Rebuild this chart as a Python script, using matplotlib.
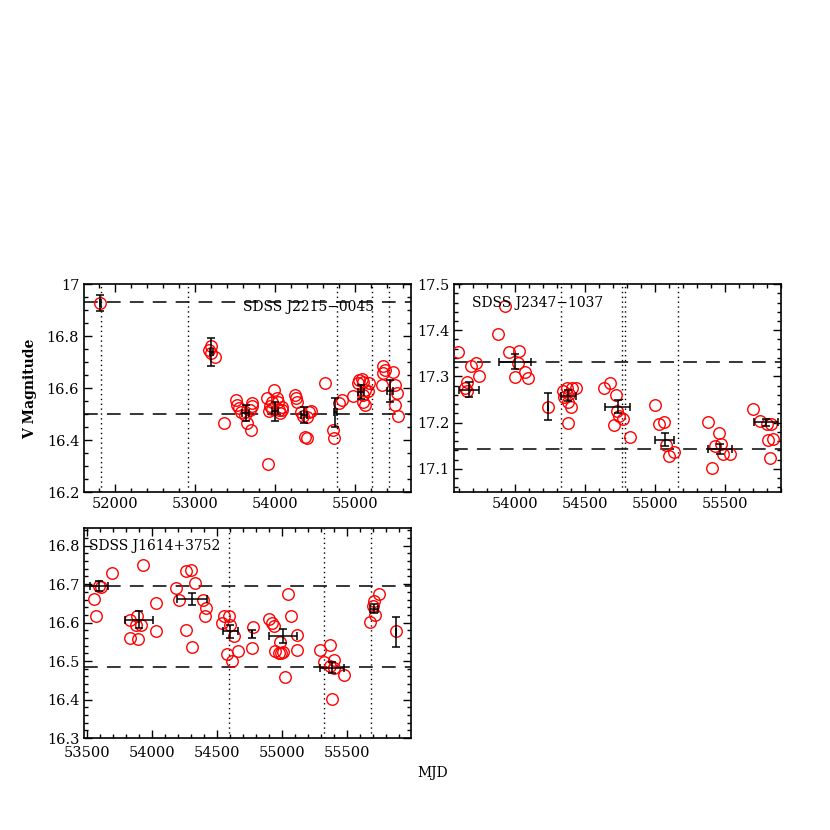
"""
V-band light curves of three SDSS sources (open circles) with binned
means (error bars), reference levels (dashed) and epochs (dotted).
"""

import matplotlib
matplotlib.use("Agg")
import matplotlib.pyplot as plt
from matplotlib.ticker import MultipleLocator, FuncFormatter

plt.rcParams["font.family"] = ["DejaVu Serif"]

# ---------------- SDSS J2215-0045 ----------------
j2215_mjd = [51812, 53167, 53200, 53192, 53250, 53362,
             53508, 53521, 53546, 53571, 53625, 53646, 53696, 53704, 53712, 53687,
             53896, 53908, 53921, 53937, 53954, 53987, 54021, 54037, 54046, 54062,
             54079, 54087, 53960,
             54242, 54258, 54271, 54325, 54346, 54375, 54404, 54400, 54429, 54442,
             54625, 54729, 54742, 54804, 54833,
             54979, 55033, 55054, 55083, 55104, 55125, 55096, 55104, 55125, 55167, 55179,
             55333, 55354, 55375, 55354, 55479, 55500, 55521, 55500, 55541]
j2215_mag = [16.928, 16.747, 16.760, 16.734, 16.718, 16.467,
             16.555, 16.535, 16.523, 16.506, 16.497, 16.465, 16.437, 16.542, 16.529, 16.516,
             16.561, 16.308, 16.510, 16.531, 16.548, 16.593, 16.561, 16.548, 16.516, 16.503,
             16.514, 16.526, 16.519,
             16.574, 16.561, 16.548, 16.506, 16.491, 16.410, 16.407, 16.487, 16.506, 16.510,
             16.619, 16.439, 16.407, 16.542, 16.555,
             16.570, 16.619, 16.631, 16.634, 16.625, 16.593, 16.574, 16.548, 16.535, 16.587, 16.619,
             16.612, 16.683, 16.670, 16.657, 16.663, 16.612, 16.580, 16.535, 16.491]
j2215_bin_mjd = [51812, 53200, 53629, 54000, 54360, 54750, 55075, 55437]
j2215_bin_mag = [16.928, 16.740, 16.505, 16.510, 16.497, 16.507, 16.584, 16.590]
j2215_bin_yerr = [0.031, 0.054, 0.030, 0.035, 0.030, 0.055, 0.028, 0.042]
j2215_bin_xerr = [10, 20, 40, 40, 40, 20, 40, 40]
j2215_hlines = [16.93, 16.50]
j2215_vlines = [51816, 52909, 54779, 55212, 55429]

# ---------------- SDSS J2347-1037 ----------------
j2347_mjd = [53595, 53655, 53643, 53660, 53683, 53721, 53745,
             53881, 53929, 53960, 54031, 54024, 53998, 54071, 54095,
             54233,
             54340, 54350, 54369, 54381, 54402, 54386, 54405, 54436, 54376,
             54638, 54679, 54721, 54731, 54710, 54745, 54769, 54821,
             55000, 55031, 55064, 55079, 55102, 55136,
             55381, 55405, 55460, 55429, 55474, 55488, 55536,
             55698, 55750, 55798, 55826, 55810, 55840, 55821]
j2347_mag = [17.352, 17.287, 17.276, 17.269, 17.323, 17.330, 17.301,
             17.391, 17.453, 17.353, 17.355, 17.330, 17.298, 17.309, 17.296,
             17.235,
             17.269, 17.255, 17.276, 17.244, 17.235, 17.262, 17.274, 17.276, 17.199,
             17.276, 17.286, 17.260, 17.226, 17.196, 17.215, 17.208, 17.170,
             17.238, 17.197, 17.201, 17.152, 17.129, 17.137,
             17.201, 17.101, 17.177, 17.150, 17.154, 17.132, 17.132,
             17.229, 17.204, 17.197, 17.197, 17.163, 17.165, 17.123]
j2347_bin_mjd = [53674, 54000, 54233, 54381, 54733, 55071, 55464, 55793]
j2347_bin_mag = [17.271, 17.332, 17.235, 17.258, 17.235, 17.163, 17.143, 17.201]
j2347_bin_yerr = [0.016, 0.016, 0.030, 0.012, 0.014, 0.014, 0.011, 0.008]
j2347_bin_xerr = [72, 113, 0, 54, 89, 68, 84, 84]
j2347_hlines = [17.332, 17.144]
j2347_vlines = [54329, 54762, 54786, 55167]

# ---------------- SDSS J1614+3752 ----------------
j1614_mjd = [53556, 53569, 53595, 53607, 53692,
             53833, 53830, 53889, 53876, 53897, 53920, 53932, 54030, 54035,
             54188, 54209, 54265, 54304, 54330, 54265, 54311, 54395, 54418, 54413,
             54541, 54554, 54592, 54605, 54580, 54618, 54630, 54661,
             54779, 54771,
             54899, 54925, 54943, 54950, 54976, 54994, 55009, 54984, 55027, 55045,
             55071, 55117, 55117,
             55296, 55321, 55367, 55372, 55398, 55398, 55385, 55480,
             55679, 55705, 55717, 55743, 55700,
             55879]
j1614_mag = [16.661, 16.616, 16.694, 16.693, 16.729,
             16.608, 16.560, 16.618, 16.595, 16.557, 16.593, 16.751, 16.651, 16.577,
             16.690, 16.660, 16.733, 16.738, 16.703, 16.582, 16.537, 16.660, 16.638, 16.616,
             16.599, 16.618, 16.618, 16.595, 16.519, 16.499, 16.566, 16.525,
             16.589, 16.534,
             16.609, 16.599, 16.590, 16.525, 16.521, 16.521, 16.523, 16.549, 16.458, 16.675,
             16.616, 16.569, 16.530,
             16.528, 16.497, 16.543, 16.486, 16.502, 16.482, 16.401, 16.465,
             16.601, 16.655, 16.621, 16.674, 16.642,
             16.577]
j1614_bin_mjd = [53595, 53902, 54311, 54605, 54771, 55009, 55385, 55710, 55879]
j1614_bin_mag = [16.694, 16.608, 16.662, 16.577, 16.571, 16.565, 16.483, 16.636, 16.576]
j1614_bin_yerr = [0.013, 0.021, 0.015, 0.017, 0.011, 0.018, 0.014, 0.012, 0.039]
j1614_bin_xerr = [66, 105, 115, 58, 0, 109, 90, 32, 0]
j1614_hlines = [16.694, 16.485]
j1614_vlines = [54592, 55321, 55685]

mag_fmt = FuncFormatter(lambda v, pos: f"{round(v, 2):g}")


def draw_panel(ax, mjd, mag, bmjd, bmag, byerr, bxerr, hlines, vlines,
               xlim, ylim, xmaj, xmin, ymaj, ymin, label, label_xy):
    for h in hlines:
        ax.axhline(h, color="black", lw=1.1, ls=(0, (9, 6)), zorder=1)
    for v in vlines:
        ax.axvline(v, color="black", lw=1.0, ls=(0, (1, 2.5)), zorder=1)
    ax.plot(mjd, mag, "o", mfc="none", mec="red", ms=8.3, mew=1.0, zorder=3)
    ax.errorbar(bmjd, bmag, yerr=byerr, xerr=bxerr, fmt="none", ecolor="black",
                elinewidth=1.1, capsize=3, capthick=1.1, zorder=4)
    ax.set_xlim(*xlim)
    ax.set_ylim(*ylim)
    ax.xaxis.set_major_locator(MultipleLocator(xmaj))
    ax.xaxis.set_minor_locator(MultipleLocator(xmin))
    ax.yaxis.set_major_locator(MultipleLocator(ymaj))
    ax.yaxis.set_minor_locator(MultipleLocator(ymin))
    ax.yaxis.set_major_formatter(mag_fmt)
    ax.tick_params(which="both", direction="in", top=True, right=True,
                   labelsize=10.5, width=1.0)
    ax.tick_params(which="major", length=6)
    ax.tick_params(which="minor", length=3)
    for s in ax.spines.values():
        s.set_linewidth(1.2)
    ax.text(label_xy[0], label_xy[1], label, transform=ax.transAxes,
            fontsize=10, ha="left", va="center", zorder=5)


def main():
    fig = plt.figure(figsize=(8.3, 8.3), dpi=100)

    ax1 = fig.add_axes([0.1012, 0.4072, 0.394, 0.2506])
    ax2 = fig.add_axes([0.547, 0.4072, 0.394, 0.2506])
    ax3 = fig.add_axes([0.1016, 0.1108, 0.394, 0.2531])

    draw_panel(ax1, j2215_mjd, j2215_mag, j2215_bin_mjd, j2215_bin_mag,
               j2215_bin_yerr, j2215_bin_xerr, j2215_hlines, j2215_vlines,
               (51606, 55700), (16.2, 17.0), 1000, 200, 0.2, 0.05,
               "SDSS J2215\u22120045", (0.485, 0.89))
    draw_panel(ax2, j2347_mjd, j2347_mag, j2347_bin_mjd, j2347_bin_mag,
               j2347_bin_yerr, j2347_bin_xerr, j2347_hlines, j2347_vlines,
               (53564, 55900), (17.05, 17.5), 500, 100, 0.1, 0.02,
               "SDSS J2347\u22121037", (0.055, 0.91))
    draw_panel(ax3, j1614_mjd, j1614_mag, j1614_bin_mjd, j1614_bin_mag,
               j1614_bin_yerr, j1614_bin_xerr, j1614_hlines, j1614_vlines,
               (53482, 55995), (16.3, 16.846), 500, 100, 0.1, 0.02,
               "SDSS J1614+3752", (0.015, 0.915))
    # keep the corner labels of the lower panel apart
    ax3.tick_params(axis="x", pad=6)

    fig.text(0.036, 0.532, "V Magnitude", rotation=90, ha="center", va="center",
             fontsize=10, fontweight="bold")
    fig.text(0.521, 0.069, "MJD", ha="center", va="center", fontsize=10)

    fig.savefig("out.png", dpi=100)
    plt.close(fig)


if __name__ == "__main__":
    main()
